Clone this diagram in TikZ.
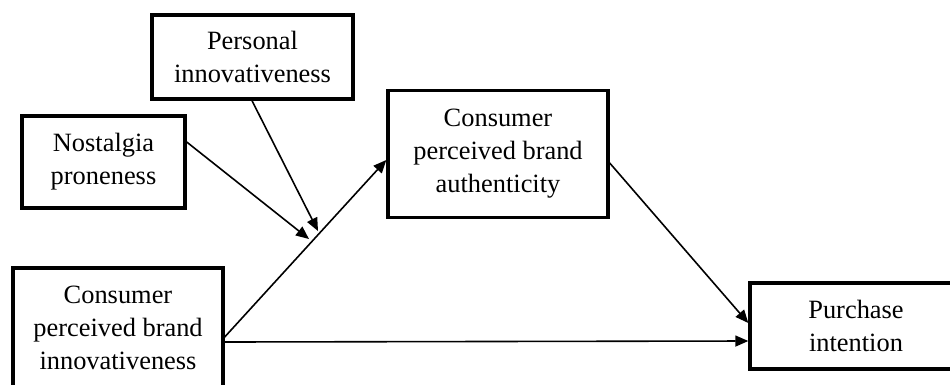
\documentclass[tikz,border=0pt]{standalone}
\usepackage{fontspec}
\setmainfont{Liberation Serif}
\usetikzlibrary{arrows.meta,calc}
\begin{document}
\begin{tikzpicture}[x=1pt,y=-1pt,
  box/.style={draw,line width=3.4pt,inner sep=0pt,align=center,
    font=\fontsize{26.4}{33}\selectfont},
  conn/.style={line width=1.6pt,-{Triangle[length=13pt,width=11pt]}}]
\useasboundingbox (0,0) rectangle (950,384);
\fill[white] (0,0) rectangle (950,384);
\clip (0,0) rectangle (950,384);
\node[box,minimum width=201pt,minimum height=84pt] (pers) at (252.5,57) {Personal\\innovativeness};
\node[box,minimum width=163pt,minimum height=92pt] (nost) at (103.5,162) {Nostalgia\\proneness};
\node[box,minimum width=210pt,minimum height=120pt] (innov) at (118,328) {Consumer\\perceived brand\\innovativeness};
\node[box,minimum width=220pt,minimum height=127pt] (auth) at (498,154) {Consumer\\perceived brand\\authenticity};
\node[box,minimum width=212pt,minimum height=86pt] (purch) at (856,326) {Purchase\\intention};
\coordinate (m1) at (309,239);
\coordinate (m2) at (318,231);
\draw[conn] (innov.east |- 0,337) -- (auth.west |- 0,160);
\draw[conn] (innov.east |- 0,342) -- (purch.west |- 0,341);
\draw[conn] (auth.east |- 0,163) -- (purch.west |- 0,323);
\draw[conn] (nost.east |- 0,142) -- (m1);
\draw[conn] (pers.south -| 252,0) -- (m2);
\end{tikzpicture}
\end{document}
